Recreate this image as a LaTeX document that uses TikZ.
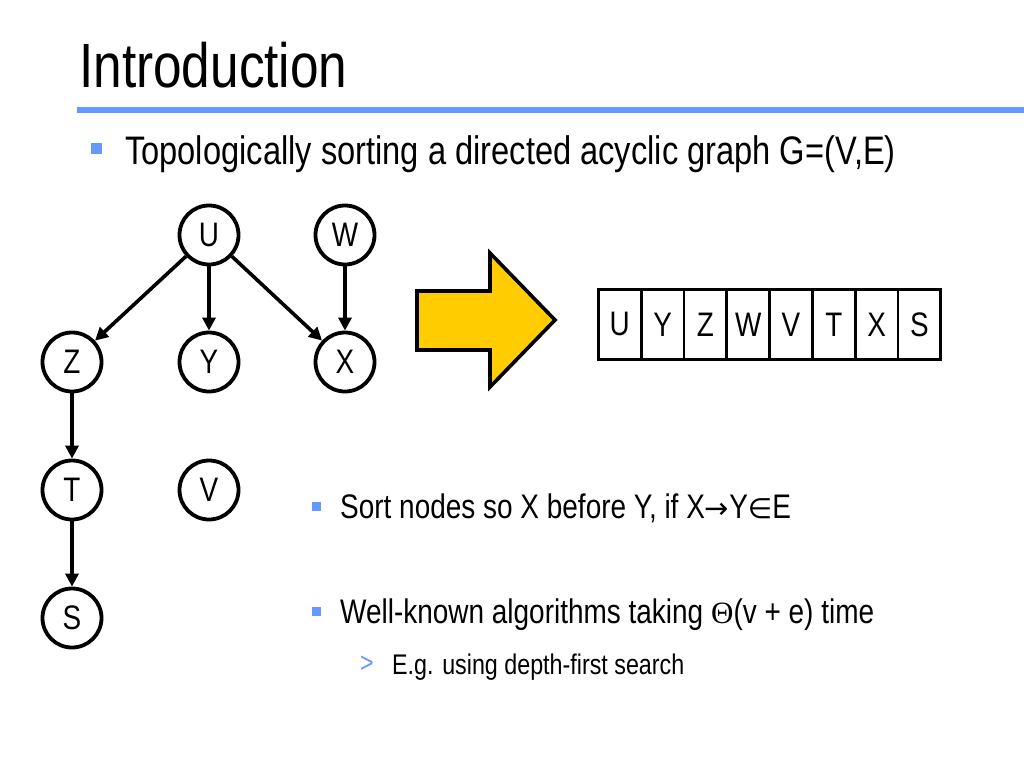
\documentclass[tikz,border=0pt]{standalone}
\usepackage{fontspec}
\setmainfont{Liberation Sans}[FakeStretch=0.82]
\newfontfamily\symf{DejaVu Sans}
\newfontfamily\thetaf{Liberation Serif}
\usetikzlibrary{arrows.meta}
\definecolor{bulletblue}{RGB}{102,153,255}
\definecolor{arrowyellow}{RGB}{255,204,0}
\begin{document}
\begin{tikzpicture}[x=1pt,y=-1pt,
  vtx/.style={circle,draw=black,line width=3.8pt,minimum size=59pt,inner sep=0pt,fill=white,font=\fontsize{34}{36}\selectfont},
  edge/.style={line width=3.6pt,-{Triangle[length=13pt,width=13pt]}},
  cell/.style={draw=black,line width=2.8pt,minimum width=42.8pt,minimum height=70pt,inner sep=0pt,anchor=north west,font=\fontsize{34}{36}\selectfont},
  txt/.style={anchor=base west,inner sep=0pt},
  sq/.style={fill=bulletblue}]
\useasboundingbox (0,0) rectangle (1024,768);
% title
\node[txt,font=\fontsize{62.6}{64}\selectfont] (title) at (79,87) {Introduction};
\fill[bulletblue] (77,107) rectangle (1024,113);
% bullet 1
\fill[sq] (90.5,143) rectangle (101.5,154);
\node[txt,font=\fontsize{39.8}{42}\selectfont] (b1) at (125,164) {Topologically sorting a directed acyclic graph G=(V,E)};
% graph
\node[vtx] (U) at (209,235) {U};
\node[vtx] (W) at (345,235) {W};
\node[vtx] (Z) at (72,362) {Z};
\node[vtx] (Y) at (209,362) {Y};
\node[vtx] (X) at (345,362) {X};
\node[vtx] (T) at (72,490) {T};
\node[vtx] (V) at (209,490) {V};
\node[vtx] (S) at (72,618) {S};
\draw[edge] (U) -- (Z);
\draw[edge] (U) -- (Y);
\draw[edge] (U) -- (X);
\draw[edge] (W) -- (X);
\draw[edge] (Z) -- (T);
\draw[edge] (T) -- (S);
% big arrow
\draw[fill=arrowyellow,line width=3.6pt,line join=miter]
  (417,291) -- (490,291) -- (490,253) -- (555,320) -- (490,387) -- (490,350) -- (417,350) -- cycle;
% array
\foreach \l [count=\i from 0] in {U,Y,Z,W,V,T,X,S}{
  \node[cell] (c\i) at ({597+42.8*\i},288) {\l};
}
% bullets
\fill[sq] (312,502) rectangle (321,511);
\node[txt,font=\fontsize{34.1}{36}\selectfont] (b2) at (340,518) {Sort nodes so X before Y, if X{\symf\fontsize{29}{30}\selectfont →}Y{\symf\fontsize{28}{30}\selectfont ∈}E};
\fill[sq] (312,607) rectangle (321,616);
\node[txt,font=\fontsize{34.1}{36}\selectfont] (b3) at (340,623) {Well-known algorithms taking {\thetaf\fontsize{31}{32}\selectfont Θ}(v + e) time};
\node[txt,font=\fontsize{28.4}{30}\selectfont,text=bulletblue] (b4m) at (360,672) {>};
\node[txt,font=\fontsize{28.4}{30}\selectfont] (b4) at (392,674) {E.g. using depth-first search};
\end{tikzpicture}
\end{document}
